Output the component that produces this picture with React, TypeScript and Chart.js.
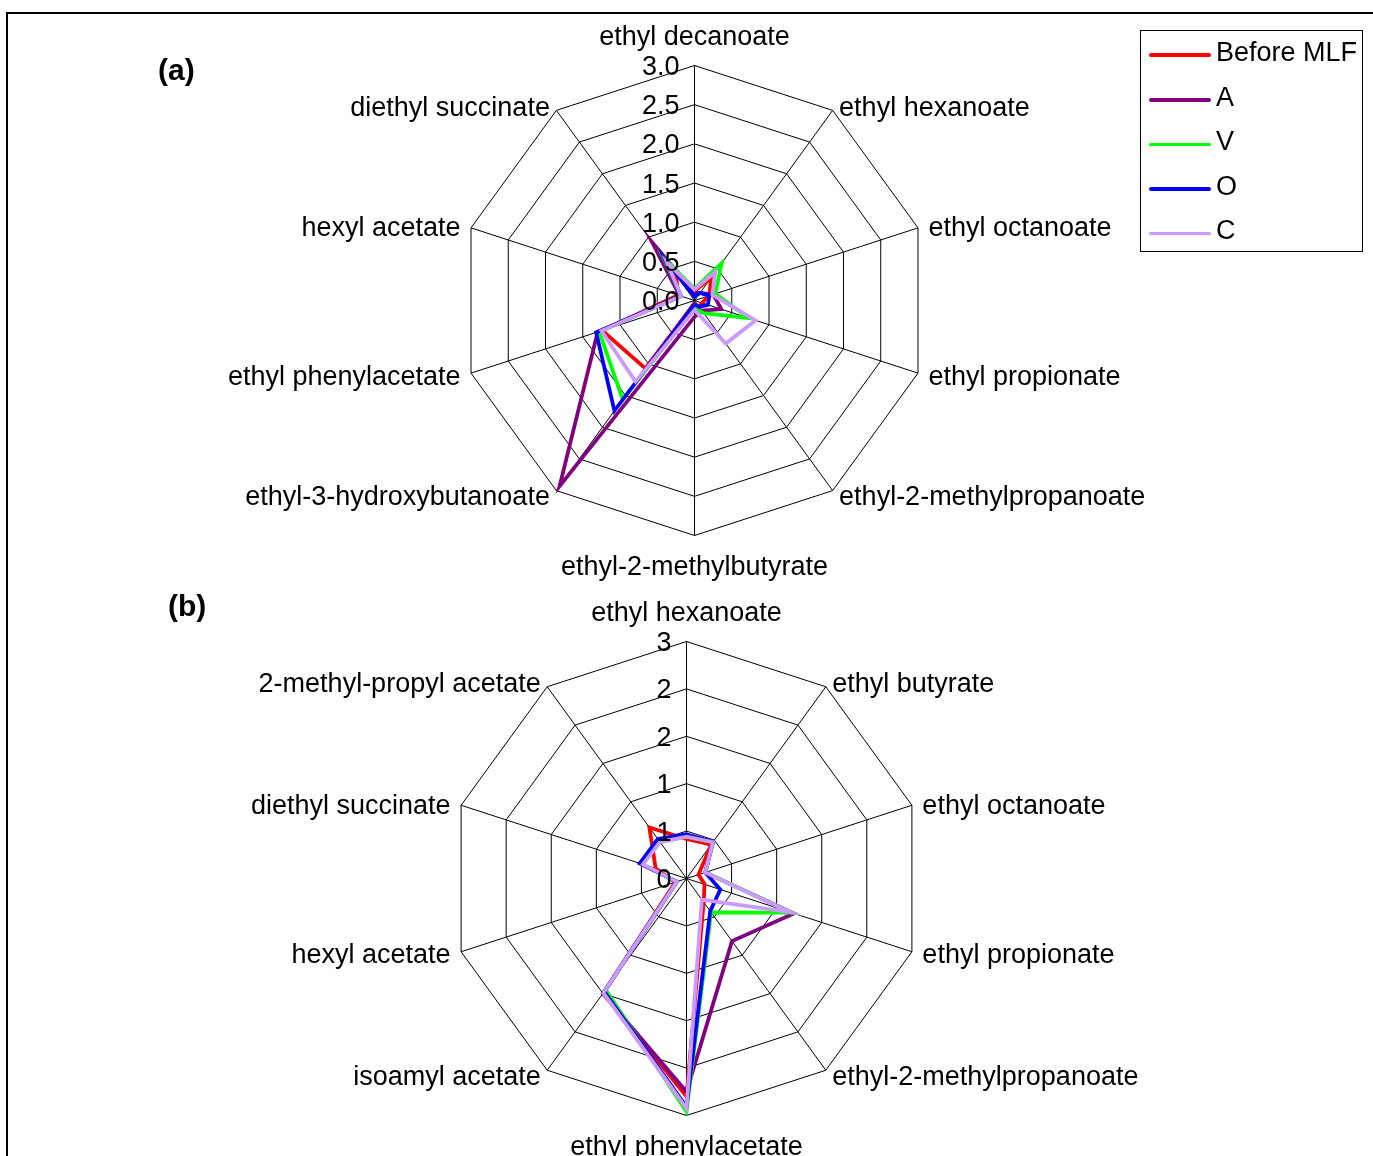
import React, { useEffect, useRef } from 'react';
import { Chart, registerables } from 'chart.js';

Chart.register(...registerables);

const FONT_FAMILY = "'Liberation Sans', Arial, Helvetica, sans-serif";

// ---------- data ----------
const SERIES_NAMES = ['Before MLF', 'A', 'V', 'O', 'C'];
const SERIES_COLORS = ['#FF0000', '#800080', '#00FF00', '#0000FF', '#CC99FF'];

// chart (a)
const LABELS_A = [
  'ethyl decanoate',
  'ethyl hexanoate',
  'ethyl octanoate',
  'ethyl propionate',
  'ethyl-2-methylpropanoate',
  'ethyl-2-methylbutyrate',
  'ethyl-3-hydroxybutanoate',
  'ethyl phenylacetate',
  'hexyl acetate',
  'diethyl succinate',
];
const BEFORE_MLF_A = [0.12, 0.36, 0.2, 0.1, 0.1, 0.04, 1.07, 1.24, 0.22, 0.4];
const A_A = [0.1, 0.12, 0.25, 0.36, 0.16, 0.21, 2.93, 1.3, 0.2, 0.92];
const V_A = [0.15, 0.59, 0.28, 0.73, 0.2, 0.1, 1.56, 1.28, 0.18, 0.68];
const O_A = [0.05, 0.12, 0.2, 0.18, 0.1, 0.05, 1.74, 1.32, 0.18, 0.64];
const C_A = [0.14, 0.45, 0.24, 0.82, 0.68, 0.12, 1.28, 1.25, 0.18, 0.6];
const TICKS_A = ['0.0', '0.5', '1.0', '1.5', '2.0', '2.5', '3.0'];

// chart (b)
const LABELS_B = [
  'ethyl hexanoate',
  'ethyl butyrate',
  'ethyl octanoate',
  'ethyl propionate',
  'ethyl-2-methylpropanoate',
  'ethyl phenylacetate',
  'isoamyl acetate',
  'hexyl acetate',
  'diethyl succinate',
  '2-methyl-propyl acetate',
];
const BEFORE_MLF_B = [0.5, 0.53, 0.16, 0.24, 0.37, 2.76, 1.79, 0.15, 0.41, 0.8];
const A_B = [0.55, 0.57, 0.25, 1.43, 0.98, 2.7, 1.8, 0.13, 0.62, 0.6];
const V_B = [0.53, 0.57, 0.25, 1.4, 0.53, 2.95, 1.74, 0.13, 0.6, 0.57];
const O_B = [0.56, 0.57, 0.25, 0.45, 0.51, 2.89, 1.77, 0.13, 0.62, 0.62];
const C_B = [0.53, 0.57, 0.25, 1.38, 0.33, 2.91, 1.79, 0.13, 0.58, 0.57];
const TICKS_B = ['0', '1', '1', '2', '2', '3'];

// ---------- plugins ----------
function makePlacePlugin(cx: number, cy: number, r: number) {
  return {
    id: 'placeScale',
    afterLayout(chart: any) {
      const s = chart.scales.r;
      s.xCenter = cx;
      s.yCenter = cy;
      s.drawingArea = r;
    },
  };
}

const spokeLabelPlugin = {
  id: 'spokeLabels',
  afterDraw(chart: any, _args: any, opts: any) {
    const s = chart.scales.r;
    const ctx = chart.ctx;
    ctx.save();
    ctx.fillStyle = '#000';
    ctx.font = `${opts.size}px ${FONT_FAMILY}`;
    ctx.textBaseline = 'alphabetic';
    (chart.data.labels as string[]).forEach((lab, i) => {
      const p = s.getPointPosition(i, s.drawingArea);
      const c = Math.cos(p.angle);
      const sn = Math.sin(p.angle);
      let x = p.x;
      let y = p.y;
      let align: CanvasTextAlign = 'center';
      if (Math.abs(c) < 0.01) {
        y += sn < 0 ? opts.topGap : opts.bottomGap;
      } else {
        align = c > 0 ? 'left' : 'right';
        x += c * 11;
        y += 10 + sn * 5.3;
      }
      ctx.textAlign = align;
      ctx.fillText(lab, x, y);
    });
    ctx.textAlign = 'right';
    s.ticks.forEach((t: any) => {
      const d = s.getDistanceFromCenterForValue(t.value);
      ctx.fillText(t.label, s.xCenter - 15, s.yCenter - d + 9.5);
    });
    ctx.restore();
  },
};

type RadarProps = {
  labels: string[];
  values: number[][];
  tickLabels: string[];
  stepSize: number;
  cx: number;
  cy: number;
  r: number;
  top: number;
  width: number;
  height: number;
};

function Radar({ labels, values, tickLabels, stepSize, cx, cy, r, top, width, height }: RadarProps) {
  const ref = useRef<HTMLCanvasElement | null>(null);
  useEffect(() => {
    if (!ref.current) return;
    const chart = new Chart(ref.current, {
      type: 'radar',
      data: {
        labels,
        datasets: SERIES_NAMES.map((name, k) => ({
          label: name,
          data: values[k],
          borderColor: SERIES_COLORS[k],
          backgroundColor: SERIES_COLORS[k],
          borderWidth: 3.75,
          pointRadius: 0,
          pointHoverRadius: 0,
          fill: false,
          tension: 0,
          borderJoinStyle: 'miter',
          order: SERIES_NAMES.length - k,
        })),
      },
      options: {
        responsive: false,
        animation: false,
        devicePixelRatio: 1,
        events: [],
        layout: { padding: 0 },
        plugins: {
          legend: { display: false },
          tooltip: { enabled: false },
          spokeLabels: { size: 27, topGap: -21, bottomGap: 39 },
        } as any,
        scales: {
          r: {
            min: 0,
            max: 3,
            beginAtZero: true,
            ticks: {
              stepSize,
              display: false,
              callback: (_v: any, i: number) => tickLabels[i],
            },
            grid: { color: '#000000', lineWidth: 1 },
            angleLines: { color: '#000000', lineWidth: 1 },
            pointLabels: { display: false },
          },
        },
      } as any,
      plugins: [makePlacePlugin(cx, cy, r), spokeLabelPlugin],
    });
    return () => chart.destroy();
  }, []);
  return (
    <canvas
      ref={ref}
      width={width}
      height={height}
      style={{ position: 'absolute', left: 0, top, width, height, display: 'block' }}
    />
  );
}

function Legend() {
  const rows = [55, 100, 144.5, 189, 233.5];
  return (
    <div>
      <div
        style={{
          position: 'absolute',
          left: 1140,
          top: 30,
          width: 223,
          height: 222,
          border: '1px solid #000',
          boxSizing: 'border-box',
        }}
      />
      {SERIES_NAMES.map((name, k) => (
        <React.Fragment key={name}>
          <div
            style={{
              position: 'absolute',
              left: 1149,
              top: rows[k] - 1.75,
              width: 62,
              height: 3.5,
              borderRadius: 2,
              background: SERIES_COLORS[k],
            }}
          />
          <div
            style={{
              position: 'absolute',
              left: 1216,
              top: rows[k] + 6.7 - 22.9,
              fontFamily: FONT_FAMILY,
              fontSize: 27,
              lineHeight: '27px',
              color: '#000',
              whiteSpace: 'nowrap',
            }}
          >
            {name}
          </div>
        </React.Fragment>
      ))}
    </div>
  );
}

export default function App() {
  const panelLabel = (text: string, left: number, top: number) => (
    <div
      style={{
        position: 'absolute',
        left,
        top,
        fontFamily: FONT_FAMILY,
        fontWeight: 'bold',
        fontSize: 30,
        lineHeight: '30px',
        color: '#000',
        whiteSpace: 'nowrap',
      }}
    >
      {text}
    </div>
  );
  return (
    <div
      style={{
        position: 'absolute',
        left: 0,
        top: 0,
        width: 1373,
        height: 1156,
        overflow: 'hidden',
        background: '#fff',
      }}
    >
      <div
        style={{
          position: 'absolute',
          left: 6,
          top: 12,
          right: -10,
          bottom: -10,
          borderLeft: '2px solid #000',
          borderTop: '2px solid #000',
        }}
      />
      <Radar
        labels={LABELS_A}
        values={[BEFORE_MLF_A, A_A, V_A, O_A, C_A]}
        tickLabels={TICKS_A}
        stepSize={0.5}
        cx={694.5}
        cy={300.5}
        r={235}
        top={0}
        width={1373}
        height={585}
      />
      <Radar
        labels={LABELS_B}
        values={[BEFORE_MLF_B, A_B, V_B, O_B, C_B]}
        tickLabels={TICKS_B}
        stepSize={0.6}
        cx={686.5}
        cy={293.5}
        r={237}
        top={585}
        width={1373}
        height={571}
      />
      {panelLabel('(a)', 158, 55)}
      {panelLabel('(b)', 168, 591)}
      <Legend />
    </div>
  );
}
